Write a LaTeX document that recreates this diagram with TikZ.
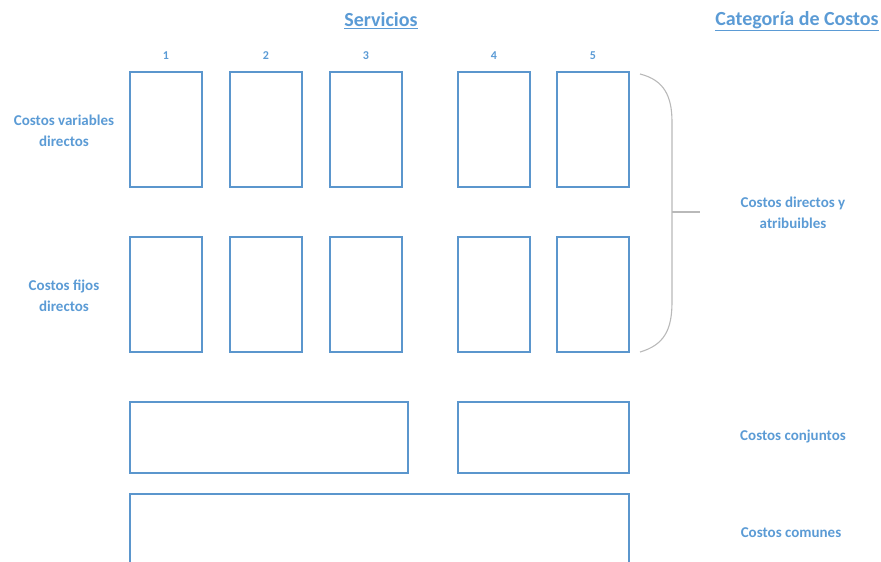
\documentclass[tikz,border=0pt]{standalone}
\usepackage{fontspec}
\setmainfont{Carlito}
\definecolor{acc}{RGB}{91,155,213}
\definecolor{boxc}{RGB}{91,150,205}
\definecolor{brc}{RGB}{185,185,185}
\begin{document}
\begin{tikzpicture}[x=1pt,y=-1pt,
  cell/.style={draw=boxc,line width=1.1pt,inner sep=0pt,minimum width=72pt,minimum height=115pt},
  wide/.style={draw=boxc,line width=1.1pt,inner sep=0pt},
  lbl/.style={text=acc,font=\bfseries\fontsize{15}{21.5}\selectfont,align=center,inner sep=0pt},
  hdr/.style={text=acc,font=\bfseries\fontsize{20}{24}\selectfont,inner sep=0pt},
  num/.style={text=acc,font=\bfseries\fontsize{12}{14}\selectfont,inner sep=0pt}]
\useasboundingbox (0,0) rectangle (881,562);
\clip (0,0) rectangle (881,562);
% headers
\node[hdr] (serv) at (381,21) {\underline{Servicios}};
\node[hdr] (cat) at (797,21) {\underline{Categoría de Costos}};
% numbers
\node[num] (n1) at (166,56) {1};
\node[num] (n2) at (266,56) {2};
\node[num] (n3) at (366,56) {3};
\node[num] (n4) at (494,56) {4};
\node[num] (n5) at (593,56) {5};
% row 1
\node[cell] (a1) at (166,129.5) {};
\node[cell] (a2) at (266,129.5) {};
\node[cell] (a3) at (366,129.5) {};
\node[cell] (a4) at (494,129.5) {};
\node[cell] (a5) at (593,129.5) {};
% row 2
\node[cell] (b1) at (166,294.5) {};
\node[cell] (b2) at (266,294.5) {};
\node[cell] (b3) at (366,294.5) {};
\node[cell] (b4) at (494,294.5) {};
\node[cell] (b5) at (593,294.5) {};
% joint
\node[wide,minimum width=278pt,minimum height=71pt] (j1) at (269,437.5) {};
\node[wide,minimum width=171pt,minimum height=71pt] (j2) at (543.5,437.5) {};
% common
\node[wide,minimum width=499pt,minimum height=120pt] (c1) at (379.5,554) {};
% left labels
\node[lbl] (lv) at (64,131) {Costos variables\\directos};
\node[lbl] (lf) at (64,296) {Costos fijos\\directos};
% brace
\coordinate (bt) at (640,74);
\coordinate (bb) at (640,352);
\coordinate (bm) at (672,212);
\coordinate (tk) at (700,212);
\draw[brc,line width=1.1pt] (bt) .. controls (664,80) and (672,96) .. (672,122) -- (672,302) .. controls (672,330) and (664,345) .. (bb);
\draw[brc,line width=1.1pt] (bm) -- (tk);
% right labels
\node[lbl] (rd) at (793,213) {Costos directos y\\atribuibles};
\node[lbl] (rc) at (793,437) {Costos conjuntos};
\node[lbl] (rm) at (791,533) {Costos comunes};
\end{tikzpicture}
\end{document}
